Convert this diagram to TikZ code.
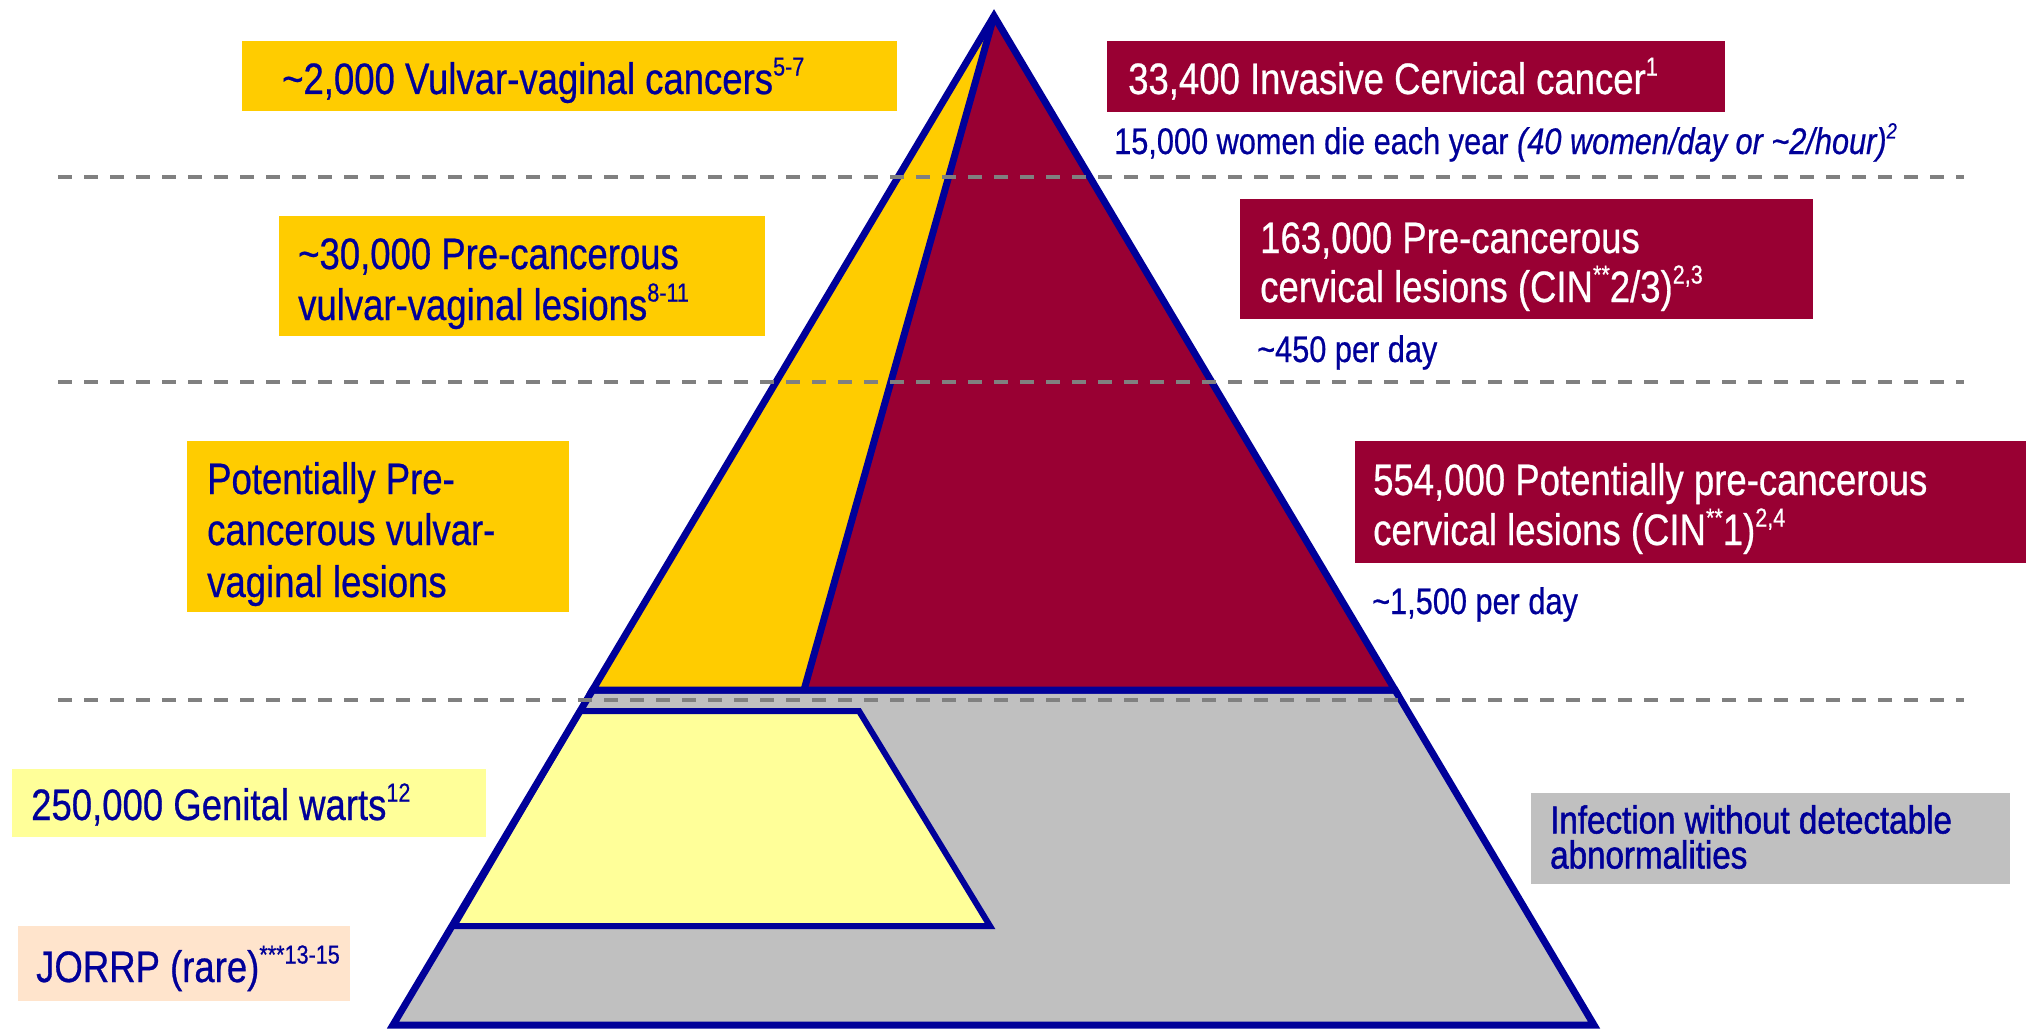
\documentclass[tikz,border=0pt]{standalone}
\usepackage{fontspec}
\setmainfont{Liberation Sans}[FakeStretch=0.83, FakeBold=0.6]
\newfontfamily\heavyfont{Liberation Sans}[FakeStretch=0.85, FakeBold=1.4]
\definecolor{navy}{HTML}{000099}
\definecolor{crimson}{HTML}{990033}
\definecolor{gold}{HTML}{FFCC00}
\definecolor{lemon}{HTML}{FFFF99}
\definecolor{peach}{HTML}{FFE4CC}
\definecolor{silver}{HTML}{C0C0C0}
\definecolor{dashgray}{HTML}{808080}
\newcommand\supr[1]{\raisebox{0.42em}{\fontsize{26}{26}\selectfont #1}}
\newcommand\supsm[1]{\raisebox{0.42em}{\fontsize{22}{22}\selectfont #1}}
\tikzset{
  boxshape/.style={rectangle, inner sep=0pt, anchor=north west},
  bigtxt/.style={inner sep=0pt, anchor=base west, font=\fontsize{44}{50}\selectfont},
  smalltxt/.style={inner sep=0pt, anchor=base west, font=\fontsize{37}{42}\selectfont, text=navy},
  edge/.style={draw=navy, line width=7pt, line join=miter},
  dashline/.style={draw=dashgray, line width=4pt, dash pattern=on 14pt off 12pt},
}
\begin{document}
\begin{tikzpicture}[x=1pt,y=-1pt]
\useasboundingbox (0,0) rectangle (2026,1030);
% pyramid geometry
\coordinate (apex) at (994,16);
\coordinate (ml) at (592.6,690);
\coordinate (mr) at (1395,690);
\coordinate (md) at (804,690);
\coordinate (bl) at (393,1025);
\coordinate (br) at (1594,1025);
% lower trapezoid
\fill[silver] (ml) -- (mr) -- (br) -- (bl) -- cycle;
% genital warts trapezoid
\coordinate (wtl) at (580,711);
\coordinate (wtr) at (859,711);
\coordinate (wbr) at (990,926);
\coordinate (wbl) at (454,926);
\filldraw[fill=lemon, draw=navy, line width=6pt] (wtl) -- (wtr) -- (wbr) -- (wbl) -- cycle;
\draw[edge] (ml) -- (mr) -- (br) -- (bl) -- cycle;
% upper triangle
\fill[crimson] (apex) -- (ml) -- (mr) -- cycle;
\fill[gold] (apex) -- (ml) -- (md) -- cycle;
\draw[edge] (apex) -- (md);
\draw[edge] (apex) -- (ml) -- (mr) -- cycle;
% dashed separators
\coordinate (d1l) at (58,177);  \coordinate (d1r) at (1964,177);
\coordinate (d2l) at (58,382);  \coordinate (d2r) at (1964,382);
\coordinate (d3l) at (58,700);  \coordinate (d3r) at (1964,700);
\draw[dashline] (d1l) -- (d1r);
\draw[dashline] (d2l) -- (d2r);
\draw[dashline] (d3l) -- (d3r);
% boxes
\node[boxshape, fill=gold, minimum width=655pt, minimum height=70pt] (b1) at (242,41) {};
\node[boxshape, fill=crimson, minimum width=618pt, minimum height=71pt] (b2) at (1107,41) {};
\node[boxshape, fill=gold, minimum width=486pt, minimum height=120pt] (b3) at (279,216) {};
\node[boxshape, fill=crimson, minimum width=573pt, minimum height=120pt] (b4) at (1240,199) {};
\node[boxshape, fill=gold, minimum width=382pt, minimum height=171pt] (b5) at (187,441) {};
\node[boxshape, fill=crimson, minimum width=671pt, minimum height=122pt] (b6) at (1355,441) {};
\node[boxshape, fill=lemon, minimum width=474pt, minimum height=68pt] (b7) at (12,769) {};
\node[boxshape, fill=peach, minimum width=332pt, minimum height=75pt] (b8) at (18,926) {};
\node[boxshape, fill=silver, minimum width=479pt, minimum height=91pt] (b9) at (1531,793) {};
% texts
\node[bigtxt, text=navy] (t1) at (282,94) {\textasciitilde 2,000 Vulvar-vaginal cancers\supr{5-7}};
\node[bigtxt, text=white] (t2) at (1128,94) {33,400 Invasive Cervical cancer\supr{1}};
\node[smalltxt] (t2b) at (1114,154) {15,000 women die each year \textit{(40 women/day or \textasciitilde 2/hour)\supsm{2}}};
\node[bigtxt, text=navy] (t3a) at (298,269) {\textasciitilde 30,000 Pre-cancerous};
\node[bigtxt, text=navy] (t3b) at (298,320) {vulvar-vaginal lesions\supr{8-11}};
\node[bigtxt, text=white] (t4a) at (1260,253) {163,000 Pre-cancerous};
\node[bigtxt, text=white] (t4b) at (1260,302) {cervical lesions (CIN\supr{**}2/3)\supr{2,3}};
\node[smalltxt] (t4c) at (1257,362) {\textasciitilde 450 per day};
\node[bigtxt, text=navy] (t5a) at (207,494) {Potentially Pre-};
\node[bigtxt, text=navy] (t5b) at (207,545) {cancerous vulvar-};
\node[bigtxt, text=navy] (t5c) at (207,597) {vaginal lesions};
\node[bigtxt, text=white] (t6a) at (1373,495) {554,000 Potentially pre-cancerous};
\node[bigtxt, text=white] (t6b) at (1373,545) {cervical lesions (CIN\supr{**}1)\supr{2,4}};
\node[smalltxt] (t6c) at (1372,614) {\textasciitilde 1,500 per day};
\node[bigtxt, text=navy] (t7) at (31,820) {250,000 Genital warts\supr{12}};
\node[bigtxt, text=navy] (t8) at (36,982) {JORRP (rare)\supr{***13-15}};
\node[inner sep=0pt, anchor=north west, align=left, font=\heavyfont\fontsize{39}{35}\selectfont, text=navy] (t9) at (1550,805) {Infection without detectable\\abnormalities};
\end{tikzpicture}
\end{document}
